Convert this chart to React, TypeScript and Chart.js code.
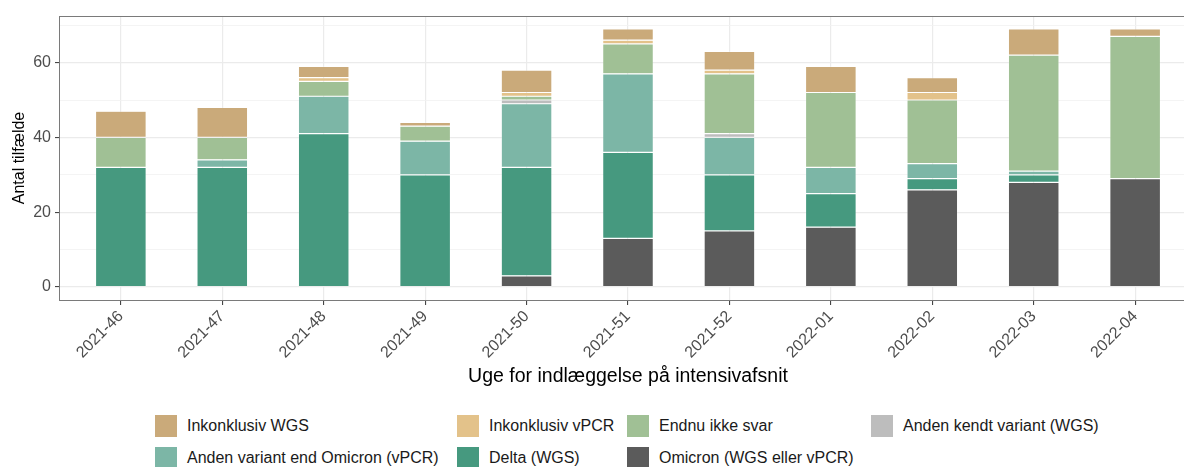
import React, { useEffect, useRef } from "react";
import { Chart, registerables } from "chart.js";

Chart.register(...registerables);

const weeks = ["2021-46", "2021-47", "2021-48", "2021-49", "2021-50", "2021-51", "2021-52", "2022-01", "2022-02", "2022-03", "2022-04"];
const omicron = [0, 0, 0, 0, 3, 13, 15, 16, 26, 28, 29];
const delta = [32, 32, 41, 30, 29, 23, 15, 9, 3, 2, 0];
const andenVariant = [0, 2, 10, 9, 17, 21, 10, 7, 4, 1, 0];
const andenKendt = [0, 0, 0, 0, 1, 0, 1, 0, 0, 0, 0];
const endnuIkkeSvar = [8, 6, 4, 4, 1, 8, 16, 20, 17, 31, 38];
const inkonklusivVpcr = [0, 0, 1, 0, 1, 1, 1, 0, 2, 0, 0];
const inkonklusivWgs = [7, 8, 3, 1, 6, 3, 5, 7, 4, 7, 2];
const yTicks = [0, 10, 20, 30, 40, 50, 60, 70];

// bottom-to-top stacking order
const series = [
  { label: "Omicron (WGS eller vPCR)", data: omicron, color: "#5B5B5B" },
  { label: "Delta (WGS)", data: delta, color: "#46997F" },
  { label: "Anden variant end Omicron (vPCR)", data: andenVariant, color: "#7CB6A6" },
  { label: "Anden kendt variant (WGS)", data: andenKendt, color: "#BDBDBD" },
  { label: "Endnu ikke svar", data: endnuIkkeSvar, color: "#A0C095" },
  { label: "Inkonklusiv vPCR", data: inkonklusivVpcr, color: "#E3C28A" },
  { label: "Inkonklusiv WGS", data: inkonklusivWgs, color: "#CAAA7A" },
];

const FONT = "'Liberation Sans', Arial, Helvetica, sans-serif";

const panelBorder = {
  id: "panelBorder",
  afterDraw(chart: any) {
    const { ctx, chartArea } = chart;
    ctx.save();
    ctx.strokeStyle = "#7A7A7A";
    ctx.lineWidth = 1;
    ctx.strokeRect(chartArea.left - 0.5, chartArea.top + 0.5, chartArea.right - chartArea.left, chartArea.bottom - chartArea.top);
    ctx.restore();
  },
};

export default function App() {
  const ref = useRef<HTMLCanvasElement>(null);

  useEffect(() => {
    if (!ref.current) return;
    const chart = new Chart(ref.current, {
      type: "bar",
      data: {
        datasets: series.map((s) => ({
          label: s.label,
          data: s.data.map((v, i) => ({ x: i, y: v })),
          backgroundColor: s.color,
          borderColor: "rgba(255,255,255,0.45)",
          borderWidth: 0.6,
          borderSkipped: false,
          barPercentage: 0.5,
          categoryPercentage: 1,
        })),
      },
      options: {
        responsive: false,
        animation: false,
        layout: { padding: { top: 16, left: 0, right: 0, bottom: 0 } },
        plugins: { legend: { display: false }, tooltip: { enabled: false } },
        scales: {
          x: {
            type: "linear",
            stacked: true,
            offset: false,
            min: -0.6,
            max: 10.6,
            afterBuildTicks: (scale: any) => {
              scale.ticks = weeks.map((_, i) => ({ value: i }));
            },
            afterFit: (scale: any) => {
              scale.height = 100;
            },
            border: { display: false },
            grid: {
              offset: false,
              color: "#EBEBEB",
              lineWidth: 1.2,
              drawTicks: true,
              tickLength: 5,
              tickColor: "#333333",
              tickWidth: 1,
            },
            ticks: {
              autoSkip: false,
              maxRotation: 45,
              minRotation: 45,
              padding: 2,
              color: "#4D4D4D",
              font: { family: FONT, size: 16 },
              callback: (v: any) => weeks[v as number] ?? "",
            },
            title: {
              display: true,
              text: "Uge for indlæggelse på intensivafsnit",
              color: "#000000",
              font: { family: FONT, size: 19.5 },
              padding: { top: 0, bottom: 12 },
            },
          },
          y: {
            stacked: true,
            min: -3.45,
            max: 72.45,
            afterBuildTicks: (scale: any) => {
              scale.ticks = yTicks.map((v) => ({ value: v }));
            },
            afterFit: (scale: any) => {
              scale.width = 60;
            },
            border: { display: false },
            grid: {
              color: (ctx: any) => (ctx.tick && ctx.tick.value % 20 === 0 ? "#EBEBEB" : "#F1F1F1"),
              lineWidth: (ctx: any) => (ctx.tick && ctx.tick.value % 20 === 0 ? 1.2 : 0.8),
              drawTicks: true,
              tickLength: 5,
              tickColor: (ctx: any) => (ctx.tick && ctx.tick.value % 20 === 0 ? "#333333" : "rgba(0,0,0,0)"),
              tickWidth: 1,
            },
            ticks: {
              padding: 4,
              color: "#4D4D4D",
              font: { family: FONT, size: 16 },
              callback: (v: any) => (Number(v) % 20 === 0 ? String(v) : ""),
            },
            title: {
              display: true,
              text: "Antal tilfælde",
              color: "#000000",
              font: { family: FONT, size: 16 },
              padding: { top: 10, bottom: 0 },
            },
          },
        },
      },
      plugins: [panelBorder],
    } as any);
    return () => chart.destroy();
  }, []);

  const legendOrder = [...series].reverse();
  const colWidths = [302, 170, 244, 300];

  return (
    <div style={{ position: "fixed", left: 0, top: 0, width: 1184, height: 467, overflow: "hidden", background: "#fff" }}>
      <canvas ref={ref} width={1196} height={400} style={{ display: "block", width: 1196, height: 400 }} />
      <div
        style={{
          position: "absolute",
          left: 155,
          top: 415,
          display: "grid",
          gridTemplateColumns: colWidths.map((w) => `${w}px`).join(" "),
          rowGap: 10,
          fontFamily: FONT,
          fontSize: 16,
          color: "#1A1A1A",
        }}
      >
        {legendOrder.map((s) => (
          <div key={s.label} style={{ display: "flex", alignItems: "center", height: 22, whiteSpace: "nowrap" }}>
            <span style={{ display: "inline-block", width: 22, height: 22, background: s.color, marginRight: 10, flex: "none" }} />
            <span style={{ lineHeight: "22px" }}>{s.label}</span>
          </div>
        ))}
      </div>
    </div>
  );
}
